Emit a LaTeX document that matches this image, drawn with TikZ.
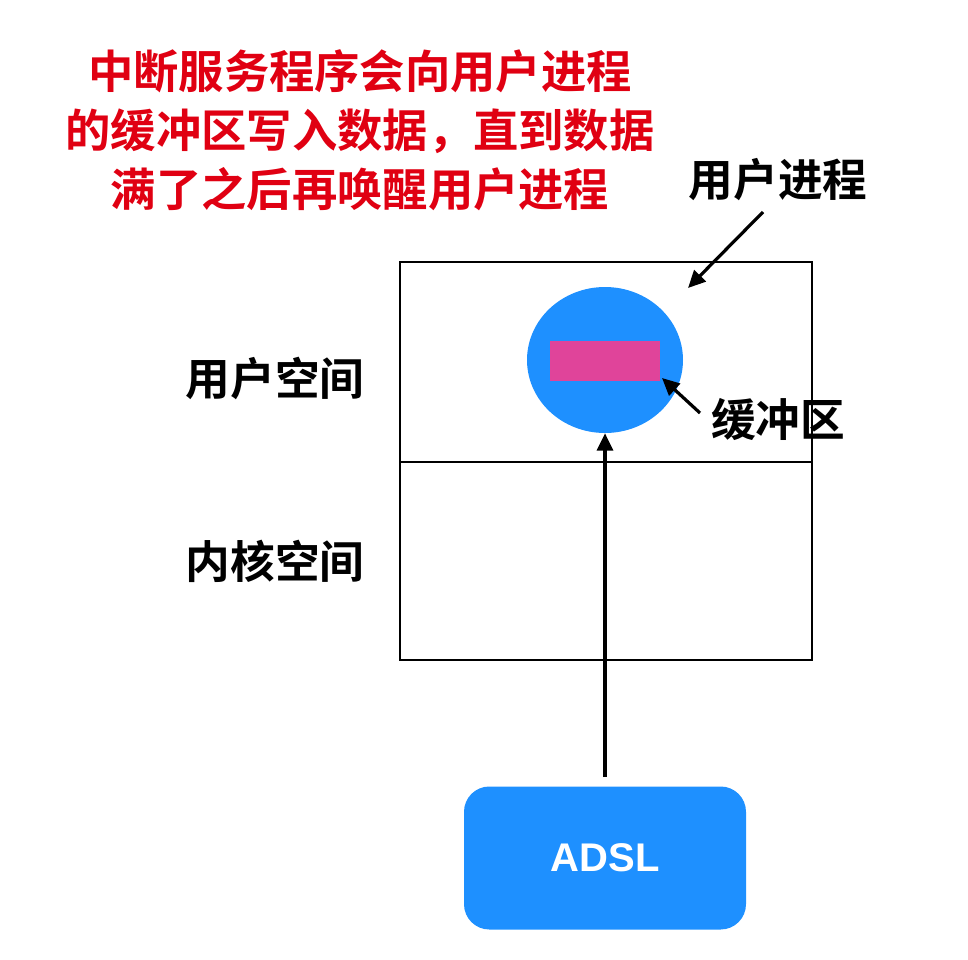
\documentclass[tikz,border=0pt]{standalone}
\usepackage{fontspec}
\setmainfont{Liberation Sans}
\newfontfamily\cjk{Noto Sans CJK SC}[BoldFont={Noto Sans CJK SC Bold}]
\usetikzlibrary{arrows.meta,shapes.geometric}
\definecolor{blu}{HTML}{1E90FF}
\definecolor{pnk}{HTML}{E0449A}
\definecolor{rd}{HTML}{E00012}
\tikzset{
  lbl/.style={font=\cjk\bfseries\fontsize{33.5}{40}\selectfont, text=black, inner sep=0pt},
  arr/.style={line width=2.4pt, -{Triangle[length=13pt,width=12pt]}},
}
\begin{document}
\begin{tikzpicture}[x=0.75pt,y=-0.75pt]
\useasboundingbox (0,0) rectangle (968,960);
\node[draw, line width=1.2pt, minimum width=412*0.75pt, minimum height=200*0.75pt, inner sep=0pt, anchor=north west] (us) at (399,261) {};
\node[draw, line width=1.2pt, minimum width=412*0.75pt, minimum height=198*0.75pt, inner sep=0pt, anchor=north west] (ks) at (399,461) {};
\node[ellipse, fill=blu, minimum width=156*0.75pt, minimum height=146*0.75pt, inner sep=0pt] (proc) at (605,360) {};
\node[fill=pnk, minimum width=110*0.75pt, minimum height=40*0.75pt, inner sep=0pt] (buf) at (605,361) {};
\node[fill=blu, rounded corners=19pt, minimum width=282*0.75pt, minimum height=143*0.75pt, inner sep=0pt, text=white, font=\bfseries\fontsize{30}{36}\selectfont] (adsl) at (605,858) {ADSL};
\node[font=\cjk\bfseries\fontsize{34}{44.3}\selectfont, text=rd, align=center, inner sep=0pt] (title) at (360,130) {中断服务程序会向用户进程\\的缓冲区写入数据，直到数据\\满了之后再唤醒用户进程};
\node[lbl] (lproc) at (778,180) {用户进程};
\node[lbl] (luser) at (275,378) {用户空间};
\node[lbl] (lkern) at (275,561) {内核空间};
\node[lbl] (lbuf) at (778,420) {缓冲区};
\coordinate (a1s) at (763,212);
\coordinate (a1e) at (688,288);
\coordinate (a2s) at (700,413);
\coordinate (a2e) at (662,378);
\coordinate (a3s) at (605,777);
\draw[arr] (a1s) -- (a1e);
\draw[arr] (a2s) -- (a2e);
\draw[arr] (a3s) -- (proc.south);
\end{tikzpicture}
\end{document}
